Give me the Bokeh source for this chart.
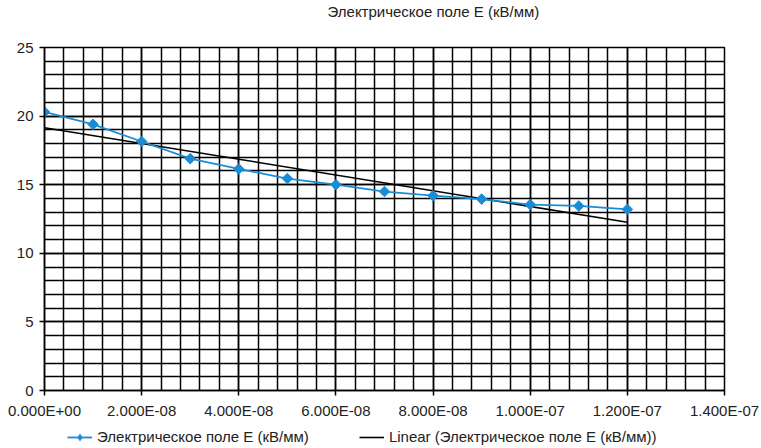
import math
import numpy as np
from bokeh.plotting import figure
from bokeh.layouts import column
from bokeh.models import (Range1d, SingleIntervalTicker, CustomJSTickFormatter,
                          Legend, LegendItem, Title)
from bokeh.embed import file_html
from bokeh.resources import INLINE

# ---- data ----
time_s = [0.0, 1.0e-8, 2.0e-8, 3.0e-8, 4.0e-8, 5.0e-8, 6.0e-8,
          7.0e-8, 8.0e-8, 9.0e-8, 1.0e-7, 1.1e-7, 1.2e-7]
field_kv_mm = [20.3, 19.4, 18.15, 16.9, 16.15, 15.45, 15.0,
               14.5, 14.2, 13.95, 13.55, 13.45, 13.2]
series_name = "Электрическое поле E (кВ/мм)"
trend_name = "Linear (Электрическое поле E (кВ/мм))"
x_limits = [0.0, 1.4e-7]
y_limits = [0, 25]

# linear trend (least squares) computed from the series
slope, intercept = np.polyfit(np.array(time_s), np.array(field_kv_mm), 1)
trend_x = [time_s[0], time_s[-1]]
trend_y = [intercept + slope * t for t in trend_x]

FONT = "Liberation Sans"
BLUE = "#1a8cd6"
TXT = "#222222"

p = figure(width=761, height=424, output_backend="svg", toolbar_location=None,
           title_location=None,
           x_range=Range1d(*x_limits), y_range=Range1d(*y_limits),
           min_border_left=44, min_border_right=37, min_border_top=47,
           min_border_bottom=34, background_fill_color="white",
           border_fill_color="white")

# spacer (nearest the frame) then the visible title above it
p.add_layout(Title(text=" ", text_font=FONT, text_font_size="23px", standoff=0), "above")
p.add_layout(Title(text=series_name, align="left", offset=283, text_font=FONT,
                   text_font_size="15px", text_font_style="normal",
                   text_color=TXT, standoff=0), "above")

p.xaxis.ticker = SingleIntervalTicker(interval=2e-8, num_minor_ticks=5)
p.yaxis.ticker = SingleIntervalTicker(interval=5, num_minor_ticks=5)
p.xaxis.formatter = CustomJSTickFormatter(code="""
    var s = tick.toExponential(3).toUpperCase();
    var parts = s.split('E');
    var e = parseInt(parts[1]);
    var a = Math.abs(e);
    return parts[0] + 'E' + (e < 0 ? '-' : '+') + (a < 10 ? '0' + a : '' + a);
""")

for ax in (p.xaxis, p.yaxis):
    ax.axis_line_color = "black"
    ax.axis_line_width = 1.5
    ax.major_tick_line_color = "black"
    ax.major_tick_line_width = 1.5
    ax.major_tick_out = 5
    ax.major_tick_in = 0
    ax.minor_tick_line_color = None
    ax.major_label_text_font = FONT
    ax.major_label_text_font_size = "15px"
    ax.major_label_text_color = TXT
p.xaxis.major_label_standoff = 6
p.yaxis.major_label_standoff = 6

for g in (p.xgrid, p.ygrid):
    g.grid_line_color = "black"
    g.grid_line_width = 1.5
    g.minor_grid_line_color = "black"
    g.minor_grid_line_width = 1.5
p.outline_line_color = "black"
p.outline_line_width = 1.5

p.line(trend_x, trend_y, color="black", line_width=1.6)
p.line(time_s, field_kv_mm, color=BLUE, line_width=1.8)
p.scatter(time_s, field_kv_mm, marker="square", angle=math.pi / 4, size=7.5,
          fill_color=BLUE, line_color=BLUE)

# ---- legend strip below the chart (renderers hold no visible data) ----
nan = [float("nan")]
lg = figure(width=761, height=24, output_backend="svg", toolbar_location=None,
            x_axis_type=None, y_axis_type=None, min_border=0,
            x_range=Range1d(0, 1), y_range=Range1d(0, 1),
            background_fill_color="white", border_fill_color="white")
lg.outline_line_color = None
lg_line = lg.line(x=nan, y=nan, color=BLUE, line_width=1.8)
lg_pts = lg.scatter(x=nan, y=nan, marker="diamond", size=11,
                    fill_color=BLUE, line_color=BLUE)
lg_trend = lg.line(x=nan, y=nan, color="black", line_width=1.6)

legend = Legend(items=[LegendItem(label=series_name, renderers=[lg_line, lg_pts]),
                       LegendItem(label=trend_name, renderers=[lg_trend])],
                orientation="horizontal", location=(23, 3),
                padding=0, margin=0, spacing=50, glyph_width=25,
                glyph_height=16, label_height=16, label_standoff=5,
                border_line_color=None, background_fill_alpha=0,
                label_text_font=FONT, label_text_font_size="15px",
                label_text_color=TXT)
lg.add_layout(legend)

layout = column(p, lg, spacing=0)
open("out.html", "w").write(file_html(layout, INLINE))
